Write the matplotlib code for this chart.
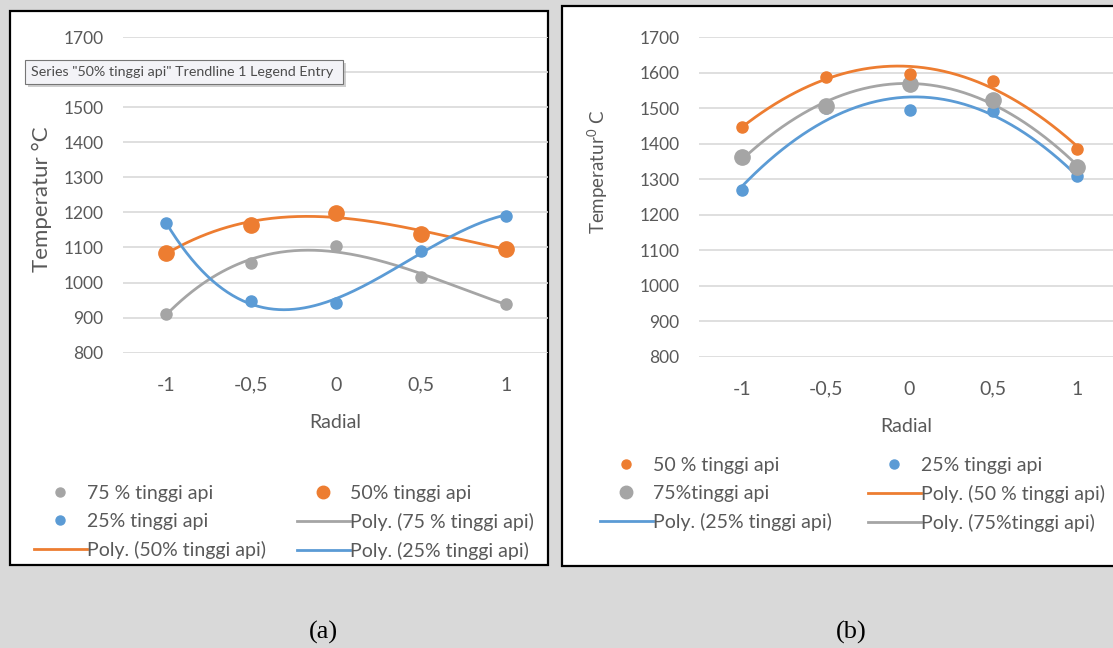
import numpy as np
import matplotlib
matplotlib.use("Agg")
import matplotlib.pyplot as plt
from matplotlib.lines import Line2D
from matplotlib.patches import Rectangle

plt.rcParams['font.family'] = ['Lato', 'DejaVu Sans']
plt.rcParams['mathtext.fontset'] = 'custom'
plt.rcParams['mathtext.rm'] = 'Lato'

# data
radial = [-1, -0.5, 0, 0.5, 1]
tick_labels = ['-1', '-0,5', '0', '0,5', '1']
y_ticks = [800, 900, 1000, 1100, 1200, 1300, 1400, 1500, 1600, 1700]

a_75 = [910, 1056, 1103, 1015, 940]
a_50 = [1084, 1165, 1199, 1139, 1097]
a_25 = [1169, 946, 943, 1091, 1191]

b_50 = [1447, 1587, 1596, 1577, 1385]
b_75 = [1361, 1506, 1568, 1523, 1333]
b_25 = [1268, 1500, 1495, 1492, 1309]

ORANGE = '#ED7D31'
BLUE = '#5B9BD5'
GRAY = '#A5A5A5'
TXT = '#595959'

W, H = 1113, 648
fig = plt.figure(figsize=(W / 100, H / 100), dpi=100, facecolor='#d9d9d9')


def px_rect(l, t, r, b):
    return [l / W, 1 - b / H, (r - l) / W, (b - t) / H]


def panel_box(l, t, r, b):
    fig.patches.append(Rectangle((l / W, 1 - b / H), (r - l) / W, (b - t) / H,
                                 transform=fig.transFigure, facecolor='white',
                                 edgecolor='black', lw=1.6, zorder=-1))


panel_box(10, 11, 548, 565)
panel_box(562, 6, 1125, 566)


def setup_axes(ax, xlim, ylabel, ylabel_size, ylabel_xy):
    ax.set_xlim(*xlim)
    ax.set_ylim(800, 1700)
    ax.set_yticks(y_ticks)
    ax.set_xticks(radial)
    ax.set_xticklabels(tick_labels)
    ax.grid(axis='y', color='#d9d9d9', lw=1.2)
    ax.set_axisbelow(True)
    for s in ax.spines.values():
        s.set_visible(False)
    ax.patch.set_alpha(0)
    ax.tick_params(axis='y', length=0, pad=14, labelsize=12.5, labelcolor=TXT)
    ax.tick_params(axis='x', length=0, pad=17.3, labelsize=14, labelcolor=TXT)
    ax.set_xlabel('Radial', fontsize=14, color=TXT, labelpad=14.5)
    ax.set_ylabel(ylabel, fontsize=ylabel_size, color=TXT)
    ax.yaxis.label.set_va('center')
    ax.yaxis.set_label_coords(*ylabel_xy)


def trend(ax, y, color, order):
    xs = np.linspace(-1, 1, 200)
    c = np.polyfit(radial, y, order)
    ax.plot(xs, np.polyval(c, xs), color=color, lw=2, zorder=2, clip_on=False)


def dots(ax, y, color, ms):
    ax.plot(radial, y, 'o', color=color, ms=ms, zorder=3, clip_on=False)


# ---- panel (a)
ax1 = fig.add_axes(px_rect(123, 37, 548, 352.7))
setup_axes(ax1, (-1.253, 1.247), 'Temperatur °C', 16, (-0.19, 0.487))
# the 1600 label sits under the tooltip in the original
ax1.set_yticklabels([str(t) if t != 1600 else '' for t in y_ticks])
trend(ax1, a_75, GRAY, 3)
trend(ax1, a_50, ORANGE, 3)
trend(ax1, a_25, BLUE, 3)
dots(ax1, a_75, GRAY, 8)
dots(ax1, a_50, ORANGE, 11)
dots(ax1, a_25, BLUE, 8)

# ---- panel (b)
ax2 = fig.add_axes(px_rect(699, 37, 1113, 356.7))
setup_axes(ax2, (-1.257, 1.215), r'Temperatur$^{\mathregular{0}}$ C', 13.5, (-0.244, 0.578))
trend(ax2, b_50, ORANGE, 2)
trend(ax2, b_25, BLUE, 2)
trend(ax2, b_75, GRAY, 2)
dots(ax2, b_25, BLUE, 8)
dots(ax2, b_75, GRAY, 11)
dots(ax2, b_50, ORANGE, 8)


def dot_h(color, ms):
    return Line2D([], [], ls='none', marker='o', color=color, ms=ms)


def line_h(color):
    return Line2D([], [], color=color, lw=2)


def column_legend(handles, labels, x, y):
    fig.legend(handles, labels, loc='upper left', bbox_to_anchor=(x / W, 1 - y / H),
               frameon=False, fontsize=14, labelcolor=TXT, handlelength=2.7,
               handletextpad=0.05, labelspacing=0.56, borderpad=0, borderaxespad=0)


# legend (a)
column_legend([dot_h(GRAY, 6.5), dot_h(BLUE, 6.5), line_h(ORANGE)],
              ['75 % tinggi api', '25% tinggi api', 'Poly. (50% tinggi api)'], 34, 485)
column_legend([dot_h(ORANGE, 9), line_h(GRAY), line_h(BLUE)],
              ['50% tinggi api', 'Poly. (75 % tinggi api)', 'Poly. (25% tinggi api)'], 297, 485)

# legend (b)
column_legend([dot_h(ORANGE, 6.5), dot_h(GRAY, 9), line_h(BLUE)],
              ['50 % tinggi api', '75%tinggi api', 'Poly. (25% tinggi api)'], 600, 457)
column_legend([dot_h(BLUE, 6.5), line_h(ORANGE), line_h(GRAY)],
              ['25% tinggi api', 'Poly. (50 % tinggi api)', 'Poly. (75%tinggi api)'], 868, 457)

# tooltip over panel (a)
fig.patches.append(Rectangle((28 / W, 1 - 87 / H), 318 / W, 24 / H, transform=fig.transFigure,
                             facecolor='#b0b0b0', edgecolor='none', alpha=0.6, zorder=5))
fig.patches.append(Rectangle((25 / W, 1 - 84 / H), 318 / W, 24 / H, transform=fig.transFigure,
                             facecolor='#f3f3f7', edgecolor='#767676', lw=0.8, zorder=6))
fig.text(31 / W, 1 - 72 / H, 'Series "50% tinggi api" Trendline 1 Legend Entry',
         fontsize=10.3, color='#4c4c4c', va='center', ha='left', zorder=7)

# captions
fig.text(323 / W, 1 - 632 / H, '(a)', family='Liberation Serif', fontsize=19,
         ha='center', va='center', color='black')
fig.text(851 / W, 1 - 632 / H, '(b)', family='Liberation Serif', fontsize=19,
         ha='center', va='center', color='black')

fig.savefig('out.png', dpi=100, facecolor=fig.get_facecolor())
